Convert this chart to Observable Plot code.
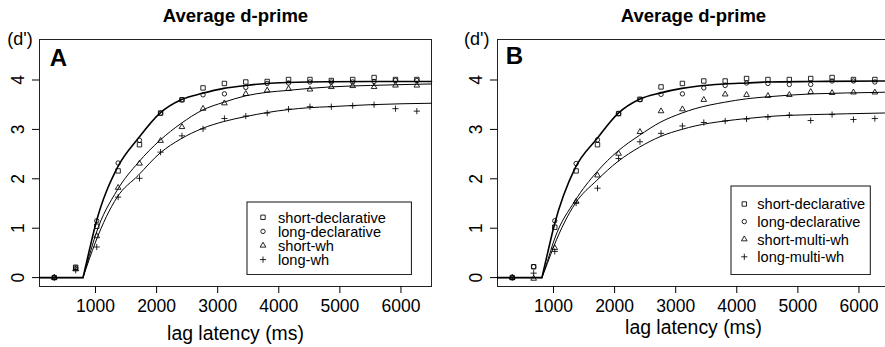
<!DOCTYPE html>
<html><head><meta charset="utf-8">
<script src="https://cdn.jsdelivr.net/npm/d3@7"></script>
<script src="https://cdn.jsdelivr.net/npm/@observablehq/plot@0.6"></script>
<style>
body{margin:0;background:#fff;}
#wrap{position:relative;width:885px;height:347px;overflow:hidden;font-family:"Liberation Sans",Arial,Helvetica,sans-serif;color:#000;background:#fff}
.panel{position:absolute;top:0;}
</style></head>
<body><div id="wrap"></div>
<script>
// ---- data ----
const lags = [325, 675, 1020, 1370, 1720, 2065, 2415, 2760, 3110, 3460, 3810, 4160, 4510, 4860, 5210, 5560, 5910, 6260];

const shortDeclA = [0, 0.21, 1.04, 2.16, 2.69, 3.33, 3.60, 3.84, 3.93, 3.96, 3.97, 4.01, 4.01, 3.99, 4.01, 4.05, 4.01, 4.01];
const longDeclA  = [0, 0.20, 1.15, 2.32, 2.78, 3.33, 3.60, 3.70, 3.72, 3.85, 3.93, 3.94, 3.96, 3.96, 3.96, 3.97, 3.99, 3.99];
const shortWhA   = [0, 0.17, 0.84, 1.82, 2.31, 2.77, 3.05, 3.42, 3.53, 3.72, 3.79, 3.82, 3.81, 3.86, 3.88, 3.86, 3.89, 3.89];
const longWhA    = [0, 0.15, 0.62, 1.63, 2.01, 2.54, 2.87, 3.01, 3.22, 3.27, 3.33, 3.41, 3.46, 3.46, 3.48, 3.50, 3.42, 3.37];

const shortDeclB = [0, 0.22, 1.02, 2.16, 2.69, 3.32, 3.61, 3.86, 3.93, 3.98, 3.98, 4.03, 4.01, 4.01, 4.03, 4.05, 4.01, 4.01];
const longDeclB  = [0, 0.22, 1.15, 2.31, 2.79, 3.32, 3.60, 3.71, 3.72, 3.84, 3.89, 3.94, 3.93, 3.91, 3.91, 3.98, 3.98, 3.96];
const shortMultiB = [0, -0.02, 0.60, 1.54, 2.07, 2.51, 2.95, 3.37, 3.41, 3.60, 3.71, 3.70, 3.68, 3.70, 3.76, 3.74, 3.75, 3.75];
const longMultiB  = [0, 0.09, 0.53, 1.51, 1.81, 2.41, 2.75, 2.92, 3.07, 3.14, 3.17, 3.21, 3.25, 3.29, 3.18, 3.30, 3.20, 3.22];

// fitted curves
const fitLagsA    = [83, 795, 900, 1000, 1355, 1700, 2055, 2400, 2750, 3100, 3460, 3800, 4150, 4500, 4840, 5500, 6500];
const fitDeclA    = [0, 0, 0.56, 1.07, 2.22, 2.82, 3.33, 3.60, 3.73, 3.83, 3.89, 3.93, 3.95, 3.96, 3.965, 3.97, 3.97];
const fitShortWhA = [0, 0, 0.45, 0.86, 1.77, 2.33, 2.78, 3.12, 3.39, 3.55, 3.68, 3.75, 3.79, 3.83, 3.86, 3.89, 3.92];
const fitLongWhA  = [0, 0, 0.38, 0.72, 1.63, 2.07, 2.52, 2.81, 3.02, 3.16, 3.26, 3.34, 3.40, 3.44, 3.46, 3.50, 3.53];

const fitLagsB       = [83, 810, 900, 1010, 1355, 1710, 2053, 2407, 2757, 3100, 3318, 3800, 4163, 4500, 5253, 6343, 6500];
const fitDeclB       = [0, 0, 0.48, 1.05, 2.22, 2.81, 3.32, 3.61, 3.74, 3.83, 3.87, 3.92, 3.94, 3.96, 3.97, 3.98, 3.98];
const fitShortMultiB = [0, 0, 0.33, 0.76, 1.56, 2.14, 2.56, 2.88, 3.15, 3.33, 3.42, 3.55, 3.62, 3.66, 3.72, 3.75, 3.755];
const fitLongMultiB  = [0, 0, 0.29, 0.65, 1.50, 1.97, 2.35, 2.64, 2.86, 3.00, 3.07, 3.17, 3.22, 3.26, 3.30, 3.33, 3.335];

const xTicks = [1000, 2000, 3000, 4000, 5000, 6000];
const yTicks = [0, 1, 2, 3, 4];
const seriesNamesA = ["short-declarative", "long-declarative", "short-wh", "long-wh"];
const seriesNamesB = ["short-declarative", "long-declarative", "short-multi-wh", "long-multi-wh"];
const symbolNames = ["square", "circle", "triangle", "plus"];
const title = "Average d-prime";
const yLabel = "(d')";
const xLabel = "lag latency (ms)";

// ---- drawing ----
const FONT = '"Liberation Sans", Arial, Helvetica, sans-serif';
const symR = {square: 2.5, circle: 2.2, triangle: 2.1, plus: 2.15};
const YLABEL_FILL = "#000001";

function rows(xs, ys) { return xs.map((x, i) => ({x, y: ys[i]})); }

function panel(opt) {
  const marks = [
    Plot.frame({stroke: "#222", strokeWidth: 1}),
    Plot.axisX({ticks: xTicks, tickSize: 7, tickPadding: 6, fontSize: 17.5, tickFormat: d => String(d), label: null}),
    Plot.axisY({ticks: yTicks, tickSize: 7, tickFormat: () => "", label: null}),
    Plot.text(yTicks, {y: d => d, text: d => String(d), frameAnchor: "left", dx: -21, rotate: -90,
      textAnchor: "middle", lineAnchor: "middle", fontSize: 17.5, fill: YLABEL_FILL}),
    Plot.text([title], {text: d => d, frameAnchor: "top", dy: -18, lineAnchor: "bottom", fontWeight: "bold", fontSize: 18.5}),
    Plot.text([yLabel], {text: d => d, frameAnchor: "top-left", dx: opt.dLabelDx, dy: 5, textAnchor: "start", lineAnchor: "bottom", fontSize: 18}),
    Plot.text([opt.letter], {text: d => d, frameAnchor: "top-left", dx: opt.letterDx, dy: opt.letterDy, textAnchor: "start", lineAnchor: "bottom", fontWeight: "bold", fontSize: 24}),
    Plot.text([xLabel], {text: d => d, frameAnchor: "bottom", dy: opt.xLabelDy, lineAnchor: "bottom", fontSize: 19.4})
  ];
  opt.fits.forEach((f, k) => {
    const r = rows(opt.fitLags, f);
    const sw = k === 0 ? 1.6 : 1;
    marks.push(Plot.line(r.slice(0, 2), {x: "x", y: "y", stroke: "black", strokeWidth: sw}));
    marks.push(Plot.line(r.slice(1), {x: "x", y: "y", stroke: "black", strokeWidth: sw, curve: "monotone-x"}));
  });
  opt.series.forEach((s, k) => {
    marks.push(Plot.dot(rows(lags, s), {x: "x", y: "y", symbol: symbolNames[k], r: symR[symbolNames[k]],
      stroke: "black", fill: "none", strokeWidth: 0.85}));
  });
  const svg = Plot.plot({
    width: 460, height: 347,
    marginLeft: 39, marginRight: 29, marginTop: 39, marginBottom: 61,
    x: {domain: [83, 6500]},
    y: {domain: [-0.18, 4.82]},
    style: {fontFamily: FONT, background: "transparent", color: "black", overflow: "visible"},
    marks
  });
  // make sure the y tick labels are turned like R's (reading bottom to top)
  d3.select(svg).selectAll(`g[fill="${YLABEL_FILL}"] text`).each(function() {
    const t = this.getAttribute("transform") || "";
    if (!/rotate/.test(t)) this.setAttribute("transform", t + " rotate(-90)");
  });
  return svg;
}

function legend(names, box) {
  const svg = d3.create("svg").attr("width", box.w + 2).attr("height", box.h + 2)
    .style("position", "absolute").style("left", (box.x - 1) + "px").style("top", (box.y - 1) + "px")
    .style("font-family", FONT);
  svg.append("rect").attr("x", 1).attr("y", 1).attr("width", box.w).attr("height", box.h)
    .attr("fill", "white").attr("stroke", "#111").attr("stroke-width", 1);
  const symMap = {square: d3.symbolSquare, circle: d3.symbolCircle, triangle: d3.symbolTriangle, plus: d3.symbolPlus};
  names.forEach((n, i) => {
    const base = box.base0 + i * box.step;
    const s = symbolNames[i];
    svg.append("path").attr("d", d3.symbol(symMap[s], Math.PI * symR[s] * symR[s])())
      .attr("transform", `translate(${box.symX + 1},${base - 5.3 + 1})`)
      .attr("fill", "none").attr("stroke", "black").attr("stroke-width", 0.85);
    svg.append("text").attr("x", box.textX + 1).attr("y", base + 1).attr("font-size", 14.6).text(n);
  });
  return svg.node();
}

const wrap = document.getElementById("wrap");
const pa = panel({letter: "A", dLabelDx: -32.3, letterDx: 10.3, letterDy: 26.7, xLabelDy: 53,
  fitLags: fitLagsA, fits: [fitDeclA, fitShortWhA, fitLongWhA],
  series: [shortDeclA, longDeclA, shortWhA, longWhA]});
pa.classList.add("panel"); pa.style.left = "0px";
wrap.appendChild(pa);

const pb = panel({letter: "B", dLabelDx: -33.4, letterDx: 8.3, letterDy: 24.5, xLabelDy: 47,
  fitLags: fitLagsB, fits: [fitDeclB, fitShortMultiB, fitLongMultiB],
  series: [shortDeclB, longDeclB, shortMultiB, longMultiB]});
pb.classList.add("panel"); pb.style.left = "457.7px";
wrap.appendChild(pb);

wrap.appendChild(legend(seriesNamesA, {x: 247.3, y: 201.7, w: 164.4, h: 72.6, symX: 16, textX: 31, base0: 20.6, step: 14.1}));
wrap.appendChild(legend(seriesNamesB, {x: 731, y: 185.7, w: 139.3, h: 88.6, symX: 13.3, textX: 26.3, base0: 23.3, step: 17.6}));
</script>
</body></html>
